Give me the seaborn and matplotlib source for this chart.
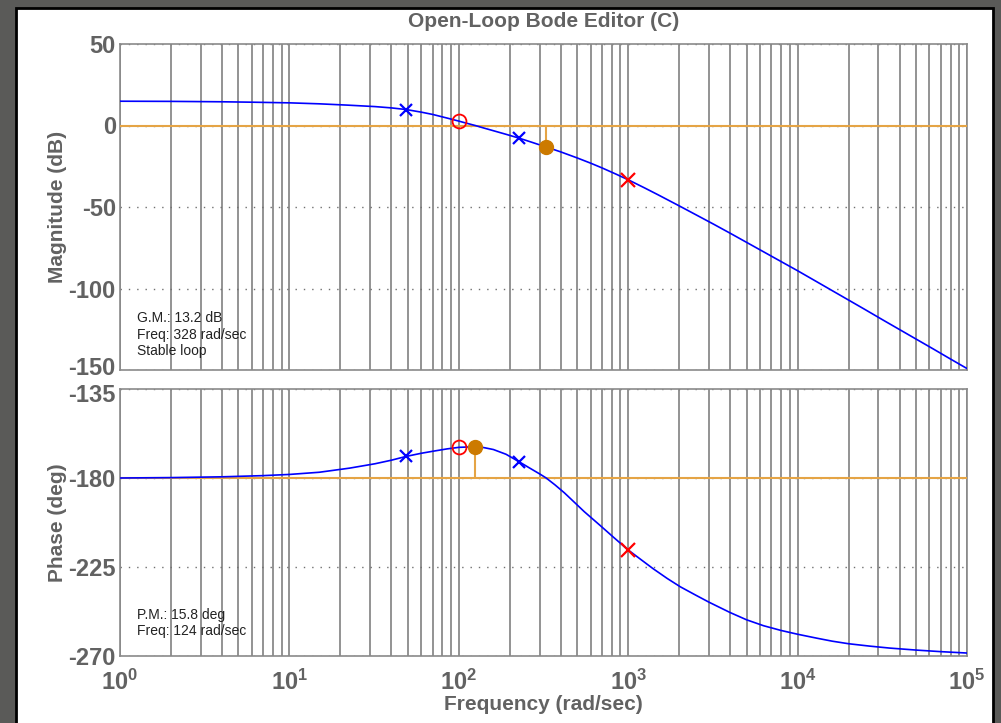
import numpy as np
import pandas as pd
import seaborn as sns
import matplotlib
matplotlib.use("Agg")
import matplotlib.pyplot as plt
from matplotlib.patches import Rectangle
from matplotlib.transforms import ScaledTranslation
from matplotlib.ticker import LogLocator, FuncFormatter, FixedLocator

# Open-loop frequency response L(jw)
mag_freq = [1, 2, 4, 6, 10, 15, 22, 32, 40, 48.8, 60, 70, 85, 100, 112, 125, 140, 160,
            190, 226, 270, 328, 400, 500, 600, 700, 850, 1000, 1250, 1500, 2000, 2600,
            3200, 4000, 5000, 6300, 8000, 10000, 13000, 16000, 20000, 25000, 32000,
            40000, 50000, 63000, 80000, 100000]
mag_db = [14.9, 14.8, 14.55, 14.3, 13.9, 13.3, 12.5, 11.6, 10.8, 9.8, 8.2, 6.8, 4.6,
          2.7, 1.3, 0.0, -1.5, -3.2, -5.4, -7.7, -10.3, -13.2, -16.2, -19.9, -23.1,
          -26.0, -29.9, -33.3, -38.3, -42.5, -49.3, -55.6, -60.6, -66.1, -71.7, -77.5,
          -83.5, -89.1, -95.9, -101.3, -107.1, -112.9, -119.4, -125.2, -131.0, -137.0,
          -143.3, -149.1]

ph_freq = [1, 2, 4, 7, 10, 15, 22.7, 32, 40, 48.8, 60, 70, 85, 100, 124, 140, 160, 190,
           226, 260, 301, 328, 370, 420, 464, 550, 683, 820, 1000, 1200, 1400, 1700,
           2030, 2500, 3000, 3990, 5000, 6300, 8000, 10000, 13000, 16000, 20000, 26600,
           35000, 50000, 70000, 100000]
ph_deg = [-180, -179.8, -179.4, -178.8, -178.2, -177.1, -175, -172.8, -171, -169.1,
          -167.5, -166.5, -165.3, -164.5, -164.2, -164.6, -165.6, -168.0, -171.7, -174.8,
          -178.0, -180, -183.5, -187.5, -191, -197, -204, -210, -216.4, -221.5, -225.8,
          -230.8, -235, -239.2, -242.8, -248, -251.7, -254.7, -257.1, -259, -261, -262.5,
          -263.8, -265, -266, -267, -267.8, -268.5]

# Plant poles (blue x), compensator zero (red o) and pole (red x)
plant_pole_freq = [48.8, 226]
plant_pole_mag = [9.8, -7.7]
plant_pole_ph = [-169.1, -171.7]
comp_zero_freq = [100]
comp_zero_mag = [2.7]
comp_zero_ph = [-164.5]
comp_pole_freq = [1000]
comp_pole_mag = [-33.3]
comp_pole_ph = [-216.4]

# Stability margins
gm_db = 13.2
gm_freq = 328
pm_deg = 15.8
pm_freq = 124

mag_ticks = [50, 0, -50, -100, -150]
ph_ticks = [-135, -180, -225, -270]

sns.set_theme(style="white")
plt.rcParams["font.family"] = ["Liberation Sans", "DejaVu Sans"]
plt.rcParams["font.weight"] = "bold"
plt.rcParams["axes.labelweight"] = "bold"
plt.rcParams["axes.titleweight"] = "bold"
plt.rcParams["axes.unicode_minus"] = False
plt.rcParams["mathtext.fontset"] = "custom"
plt.rcParams["mathtext.rm"] = "Liberation Sans:bold"
plt.rcParams["mathtext.it"] = "Liberation Sans:bold"
plt.rcParams["mathtext.bf"] = "Liberation Sans:bold"

TXT = "#626262"
GRID = "#8a8a8a"
ORANGE = "#E5A445"
DOT = "#CC7A00"
YLAB_X = -0.063

fig = plt.figure(figsize=(10.01, 7.23), dpi=100)
fig.patch.set_facecolor("#5a5a58")
W, H = 1001, 723
fig.patches.append(Rectangle((16 / W, -0.02), (993 - 16) / W, (723 - 8) / H + 0.02,
                             transform=fig.transFigure, facecolor="white",
                             edgecolor="black", linewidth=2.0, zorder=-5))

ax1 = fig.add_axes([120 / W, 1 - 370 / H, (967 - 120) / W, (370 - 44) / H])
ax2 = fig.add_axes([120 / W, 1 - 656 / H, (967 - 120) / W, (656 - 389) / H])

for ax in (ax1, ax2):
    ax.set_xscale("log")
    ax.set_xlim(1, 1e5)
    ax.set_facecolor("white")
    for s in ax.spines.values():
        s.set_color(GRID)
        s.set_linewidth(1.2)
    ax.xaxis.set_major_locator(LogLocator(base=10, numticks=10))
    ax.xaxis.set_minor_locator(LogLocator(base=10, subs=np.arange(2, 10), numticks=20))
    ax.grid(axis="x", which="both", color=GRID, linestyle="-", linewidth=1.3)
    ax.grid(axis="y", which="major", color="#707070", linestyle=(0, (1, 5)), linewidth=1.0)
    ax.tick_params(axis="both", which="both", direction="in", length=3, color=GRID,
                   labelsize=17, labelcolor=TXT, pad=3)
    ax.tick_params(axis="x", which="minor", length=0)
    ax.set_axisbelow(True)

# Magnitude plot
sns.lineplot(x=mag_freq, y=mag_db, ax=ax1, color="#0000ff", linewidth=1.2,
             estimator=None, sort=False, zorder=5)
ax1.axhline(0, color=ORANGE, linewidth=1.5, zorder=3)
ax1.vlines(gm_freq, -gm_db, 0, color=ORANGE, linewidth=1.5, zorder=3)
ax1.plot(gm_freq, -gm_db, "o", color=DOT, markersize=10, zorder=6)
ax1.plot(plant_pole_freq, plant_pole_mag, "x", color="#0000ff", markersize=8, mew=1.6, zorder=6)
ax1.plot(comp_zero_freq, comp_zero_mag, "o", mfc="none", mec="red", markersize=10, mew=1.3, zorder=6)
ax1.plot(comp_pole_freq, comp_pole_mag, "x", color="red", markersize=10, mew=1.6, zorder=6)
ax1.set_ylim(-150, 50)
ax1.yaxis.set_major_locator(FixedLocator(mag_ticks))
ax1.tick_params(axis="x", labelbottom=False)
ax1.set_ylabel("Magnitude (dB)", fontsize=15, fontweight="bold", color=TXT)
ax1.yaxis.set_label_coords(YLAB_X, 0.5)
ax1.set_title("Open-Loop Bode Editor (C)", fontsize=15, fontweight="bold", color=TXT, pad=12)
ax1.text(0.02, 0.18, f"G.M.: {gm_db} dB\nFreq: {gm_freq} rad/sec\nStable loop",
         transform=ax1.transAxes, fontsize=10, color="#222222", va="top",
         linespacing=1.2, fontweight="normal")

# Phase plot
sns.lineplot(x=ph_freq, y=ph_deg, ax=ax2, color="#0000ff", linewidth=1.2,
             estimator=None, sort=False, zorder=5)
ax2.axhline(-180, color=ORANGE, linewidth=1.5, zorder=3)
ax2.vlines(pm_freq, -180, -180 + pm_deg, color=ORANGE, linewidth=1.5, zorder=3)
ax2.plot(pm_freq, -180 + pm_deg, "o", color=DOT, markersize=10, zorder=6)
ax2.plot(plant_pole_freq, plant_pole_ph, "x", color="#0000ff", markersize=8, mew=1.6, zorder=6)
ax2.plot(comp_zero_freq, comp_zero_ph, "o", mfc="none", mec="red", markersize=10, mew=1.3, zorder=6)
ax2.plot(comp_pole_freq, comp_pole_ph, "x", color="red", markersize=10, mew=1.6, zorder=6)
ax2.set_ylim(-270, -135)
ax2.yaxis.set_major_locator(FixedLocator(ph_ticks))
ax2.xaxis.set_major_formatter(FuncFormatter(
    lambda v, p: r"$\mathbf{10^{%d}}$" % int(round(np.log10(v)))))
ax2.tick_params(axis="x", which="major", pad=10, labelsize=17)
ax2.set_ylabel("Phase (deg)", fontsize=15, fontweight="bold", color=TXT)
ax2.yaxis.set_label_coords(YLAB_X, 0.5)
ax2.set_xlabel("Frequency (rad/sec)", fontsize=15, fontweight="bold", color=TXT, labelpad=0)
ax2.text(0.02, 0.18, f"P.M.: {pm_deg} deg\nFreq: {pm_freq} rad/sec",
         transform=ax2.transAxes, fontsize=10, color="#222222", va="top",
         linespacing=1.2, fontweight="normal")

# Nudge the adjoining end labels of the two panels apart
fig.canvas.draw()
for lab in ax1.get_yticklabels():
    if lab.get_text() == "-150":
        lab.set_transform(lab.get_transform() + ScaledTranslation(0, 3 / 72, fig.dpi_scale_trans))
for lab in ax2.get_yticklabels():
    if lab.get_text() == "-135":
        lab.set_transform(lab.get_transform() + ScaledTranslation(0, -3 / 72, fig.dpi_scale_trans))

fig.savefig("out.png", dpi=100, facecolor=fig.get_facecolor())
